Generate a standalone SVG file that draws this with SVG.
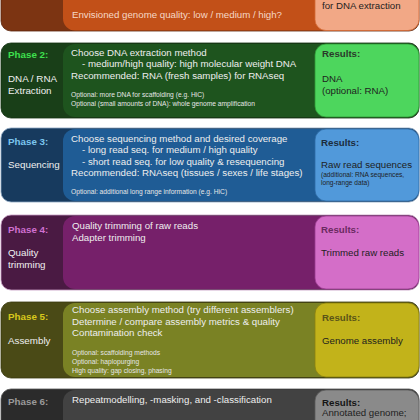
<svg xmlns="http://www.w3.org/2000/svg" width="420" height="420" viewBox="0 0 420 420">
<style>
text{font-family:"Liberation Sans",Arial,sans-serif}
.ph{font-size:9.8px;font-weight:bold}
.lb{font-size:9.8px;fill:#f0f0f0}
.mt{font-size:9.7px;fill:#eeeeee}
.sm{font-size:6.7px;fill:#e6e6e6}
.rh{font-size:9.7px;font-weight:bold}
.rt{font-size:9.7px;fill:#1e1e1e}
.rs{font-size:6.6px;fill:#1e1e1e}
</style>
<rect width="420" height="420" fill="#ffffff"/>
<g id="connectors"></g>

<g id="phase1">
<rect x="1" y="-44" width="418" height="75" rx="10" fill="#7c3412" stroke="#5a250c" stroke-width="0.8"/>
<rect x="63" y="-43" width="350" height="73.5" rx="12" fill="#c25018"/>
<rect x="315" y="-43" width="104" height="73.5" rx="11" fill="#f2a886" stroke="#d36a35" stroke-width="0.8"/>
<text class="mt" x="72" y="18" style="fill:#f6d8c6">Envisioned genome quality: low / medium / high?</text>
<text class="rt" x="322" y="9">for DNA extraction</text>
</g>

<g id="phase2">
<rect x="1" y="43" width="418" height="75" rx="10" fill="#193f18" stroke="#123010" stroke-width="0.8"/>
<rect x="63" y="44" width="350" height="73" rx="12" fill="#1e541e"/>
<rect x="315" y="44" width="104" height="73" rx="11" fill="#4dd65d" stroke="#2e9b36" stroke-width="0.8"/>
<text class="ph" x="8" y="58" fill="#3ee04e">Phase 2:</text>
<text class="lb" x="8" y="82">DNA / RNA</text>
<text class="lb" x="8" y="94">Extraction</text>
<text class="mt" x="71" y="56">Choose DNA extraction method</text>
<text class="mt" x="82" y="67">- medium/high quality: high molecular weight DNA</text>
<text class="mt" x="71" y="79">Recommended: RNA (fresh samples) for RNAseq</text>
<text class="sm" x="71" y="97">Optional: more DNA for scaffolding (e.g. HiC)</text>
<text class="sm" x="71" y="106">Optional (small amounts of DNA): whole genome amplification</text>
<text class="rh" x="322" y="57" fill="#2a3a2a">Results:</text>
<text class="rt" x="322" y="82">DNA</text>
<text class="rt" x="322" y="94">(optional: RNA)</text>
</g>

<g id="phase3">
<rect x="1" y="128" width="418" height="74" rx="10" fill="#173a5e" stroke="#8aa4c0" stroke-width="0.8"/>
<rect x="63" y="129" width="350" height="72" rx="12" fill="#1f5c95"/>
<rect x="315" y="129" width="104" height="72" rx="11" fill="#5199da" stroke="#2d6aa5" stroke-width="0.8"/>
<text class="ph" x="8" y="145" fill="#7cc6ee">Phase 3:</text>
<text class="lb" x="8" y="168">Sequencing</text>
<text class="mt" x="71" y="142">Choose sequencing method and desired coverage</text>
<text class="mt" x="82" y="153">- long read seq. for medium / high quality</text>
<text class="mt" x="82" y="165">- short read seq. for low quality &amp; resequencing</text>
<text class="mt" x="71" y="176">Recommended: RNAseq (tissues / sexes / life stages)</text>
<text class="sm" x="71" y="194">Optional: additional long range information (e.g. HiC)</text>
<text class="rh" x="321" y="146" fill="#1c2c3c">Results:</text>
<text class="rt" x="321" y="168">Raw read sequences</text>
<text class="rs" x="321" y="177">(additional: RNA sequences,</text>
<text class="rs" x="321" y="185">long-range data)</text>
</g>

<g id="phase4">
<rect x="1" y="215" width="418" height="75" rx="10" fill="#4a1a43" stroke="#c49ac0" stroke-width="0.8"/>
<rect x="63" y="216" width="350" height="73" rx="12" fill="#76206a"/>
<rect x="315" y="216" width="104" height="73" rx="11" fill="#d46ec8" stroke="#9a3a90" stroke-width="0.8"/>
<text class="ph" x="8" y="233" fill="#d070d0">Phase 4:</text>
<text class="lb" x="8" y="256">Quality</text>
<text class="lb" x="8" y="268">trimming</text>
<text class="mt" x="72" y="229">Quality trimming of raw reads</text>
<text class="mt" x="72" y="241">Adapter trimming</text>
<text class="rh" x="321" y="233" fill="#6a2a60">Results:</text>
<text class="rt" x="321" y="256">Trimmed raw reads</text>
</g>

<g id="phase5">
<rect x="1" y="302" width="418" height="76" rx="10" fill="#4a4a16" stroke="#38380e" stroke-width="0.8"/>
<rect x="63" y="303" width="350" height="74" rx="12" fill="#7a8224"/>
<rect x="315" y="303" width="104" height="74" rx="11" fill="#c2b31a" stroke="#8a8010" stroke-width="0.8"/>
<text class="ph" x="8" y="320" fill="#d8c81c">Phase 5:</text>
<text class="lb" x="8" y="344">Assembly</text>
<text class="mt" x="72" y="313">Choose assembly method (try different assemblers)</text>
<text class="mt" x="72" y="325">Determine / compare assembly metrics &amp; quality</text>
<text class="mt" x="72" y="336">Contamination check</text>
<text class="sm" x="72" y="355">Optional: scaffolding methods</text>
<text class="sm" x="72" y="364">Optional: haplopurging</text>
<text class="sm" x="72" y="373">High quality: gap closing, phasing</text>
<text class="rh" x="322" y="321" fill="#5a5418">Results:</text>
<text class="rt" x="322" y="344">Genome assembly</text>
</g>

<g id="phase6">
<rect x="1" y="389" width="418" height="75" rx="10" fill="#2b2b2b" stroke="#555555" stroke-width="0.8"/>
<rect x="63" y="390" width="350" height="73" rx="12" fill="#424242"/>
<rect x="315" y="390" width="104" height="73" rx="11" fill="#8a8a8a" stroke="#5a5a5a" stroke-width="0.8"/>
<text class="ph" x="8" y="405" fill="#9a9a9a">Phase 6:</text>
<text class="lb" x="8" y="427">Annotation</text>
<text class="mt" x="72" y="403">Repeatmodelling, -masking, and -classification</text>
<text class="mt" x="72" y="427">Masking of RNA sequences</text>
<text class="rh" x="322" y="406" fill="#151515">Results:</text>
<text class="rt" x="322" y="416">Annotated genome;</text>
</g>
</svg>
